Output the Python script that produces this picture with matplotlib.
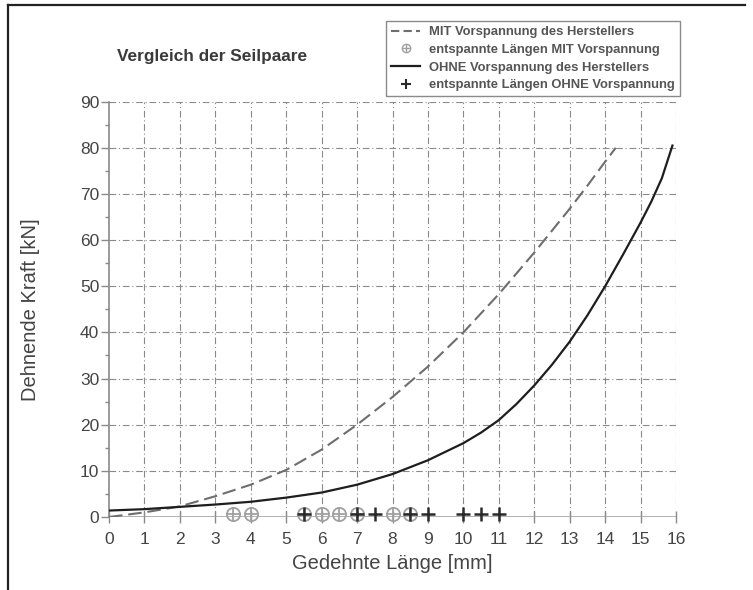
import matplotlib
matplotlib.use("Agg")
import matplotlib.pyplot as plt
from matplotlib.lines import Line2D
from matplotlib.legend_handler import HandlerTuple
import numpy as np

plt.rcParams['font.family'] = ['Liberation Sans', 'DejaVu Sans']

# Force-elongation curves (elongation in mm, force in kN)
mit_x = [0, 1, 2, 3, 4, 5, 6, 7, 8, 9, 10, 11, 12, 13, 13.5, 14, 14.3]
mit_y = [0, 1.0, 2.3, 4.5, 7.0, 10.2, 14.6, 20.0, 26.0, 32.6, 40.0, 48.3, 57.3, 66.8, 71.8, 77.0, 80.0]

ohne_x = [0, 1, 2, 3, 4, 5, 6, 7, 8, 9, 10, 10.5, 11, 11.5, 12, 12.5, 13, 13.5,
          14, 14.5, 15, 15.3, 15.6, 15.9]
ohne_y = [1.4, 1.7, 2.2, 2.7, 3.3, 4.2, 5.3, 7.0, 9.3, 12.3, 16.0, 18.3, 21.0,
          24.5, 28.5, 33.0, 38.0, 43.7, 50.0, 56.8, 63.8, 68.3, 73.4, 80.5]

# Relaxed lengths after unloading
mit_rel_x = [3.5, 4, 5.5, 6, 6.5, 7, 8, 8.5]
ohne_rel_x = [5.5, 7, 7.5, 8.5, 9, 10, 10.5, 11]
rel_force = 0.7

x_ticks = list(range(0, 17))
y_ticks = list(range(0, 91, 10))

title = "Vergleich der Seilpaare"
labels = ["MIT Vorspannung des Herstellers",
          "entspannte Längen MIT Vorspannung",
          "OHNE Vorspannung des Herstellers",
          "entspannte Längen OHNE Vorspannung"]

W, H = 753, 590
fig = plt.figure(figsize=(W / 100, H / 100), dpi=100)
ax = fig.add_axes([109 / W, 1 - 517 / H, (676 - 109) / W, (517 - 101.7) / H])

grid_col = "#8a8a8a"
for xv in x_ticks[1:]:
    ax.axvline(xv, color=grid_col, lw=0.8, ls=(0, (6, 2.5, 1, 2.5)), zorder=1)
for yv in y_ticks[1:]:
    ax.axhline(yv, color=grid_col, lw=0.8, ls=(0, (6, 2.5, 1, 2.5)), zorder=1)
ax.axhline(0, color="#9a9a9a", lw=1.8, zorder=2)

dash_col = "#6e6e6e"
solid_col = "#1e1e1e"
ax.plot(mit_x, mit_y, color=dash_col, lw=1.5, dashes=(6.5, 2.8), zorder=3)
ax.plot(ohne_x, ohne_y, color=solid_col, lw=1.6, zorder=4)

circ_col = "#a0a0a0"
ry_m = [rel_force] * len(mit_rel_x)
ry_o = [rel_force] * len(ohne_rel_x)
ax.plot(mit_rel_x, ry_m, ls="none", marker="o", ms=9.5, mfc="none", mec=circ_col,
        mew=1.3, clip_on=False, zorder=5)
ax.plot(mit_rel_x, ry_m, ls="none", marker="+", ms=9.5, mec=circ_col,
        mew=1.3, clip_on=False, zorder=5)
ax.plot(ohne_rel_x, ry_o, ls="none", marker="+", ms=10, mec="#2a2a2a",
        mew=1.8, clip_on=False, zorder=6)

ax.set_xlim(0, 16)
ax.set_ylim(0, 90)
for s in ["top", "right", "bottom"]:
    ax.spines[s].set_visible(False)
ax.spines["left"].set_color("#8a8a8a")
ax.spines["left"].set_linewidth(1.2)

ax.set_xticks(x_ticks)
ax.set_yticks(y_ticks)
ax.set_yticks(np.arange(5, 90, 10), minor=True)
ax.tick_params(axis="x", direction="inout", length=8, width=1, color="#8a8a8a",
               labelsize=12.5, labelcolor="#444444", pad=7)
ax.tick_params(axis="y", which="major", direction="out", length=6, width=1,
               color="#8a8a8a", labelsize=12.5, labelcolor="#444444", pad=1)
ax.tick_params(axis="y", which="minor", direction="out", length=3, width=1,
               color="#8a8a8a")

ax.set_xlabel("Gedehnte Länge [mm]", fontsize=14.5, color="#444444", labelpad=5)
ax.set_ylabel("Dehnende Kraft [kN]", fontsize=14.5, color="#444444")
ax.yaxis.set_label_coords((40 - 109) / (676 - 109), 0.5)

fig.text(117 / W, 1 - 57 / H, title, fontsize=12.4, fontweight="bold",
         color="#3a3a3a", ha="left", va="center")

# Legend
h_mit = Line2D([], [], color=dash_col, lw=1.5, dashes=(4, 2))
h_mrel_c = Line2D([], [], ls="none", marker="o", ms=6, mfc="none", mec=circ_col, mew=1)
h_mrel_p = Line2D([], [], ls="none", marker="+", ms=6, mec=circ_col, mew=1)
h_ohne = Line2D([], [], color=solid_col, lw=1.6)
h_orel = Line2D([], [], ls="none", marker="+", ms=7, mec="#2a2a2a", mew=1.5)
leg = ax.legend([h_mit, (h_mrel_c, h_mrel_p), h_ohne, h_orel], labels,
                handler_map={tuple: HandlerTuple(ndivide=1, pad=0)},
                loc="upper right", bbox_to_anchor=(680 / W, 1 - 21 / H),
                bbox_transform=fig.transFigure, borderaxespad=0,
                prop={"size": 9.4, "weight": "bold"}, labelcolor="#555555",
                frameon=True, fancybox=False, edgecolor="#8a8a8a",
                framealpha=1, handlelength=2.2, handletextpad=0.7,
                labelspacing=0.42, borderpad=0.4)
leg.get_frame().set_linewidth(1.0)

# Outer frame lines
fig.add_artist(Line2D([8 / W, 745 / W], [1 - 5 / H, 1 - 5 / H], color="#222222",
                      lw=1.6, transform=fig.transFigure))
fig.add_artist(Line2D([8 / W, 8 / W], [1 - 5 / H, 0], color="#222222",
                      lw=1.6, transform=fig.transFigure))

fig.savefig("out.png", dpi=100, facecolor="white")
